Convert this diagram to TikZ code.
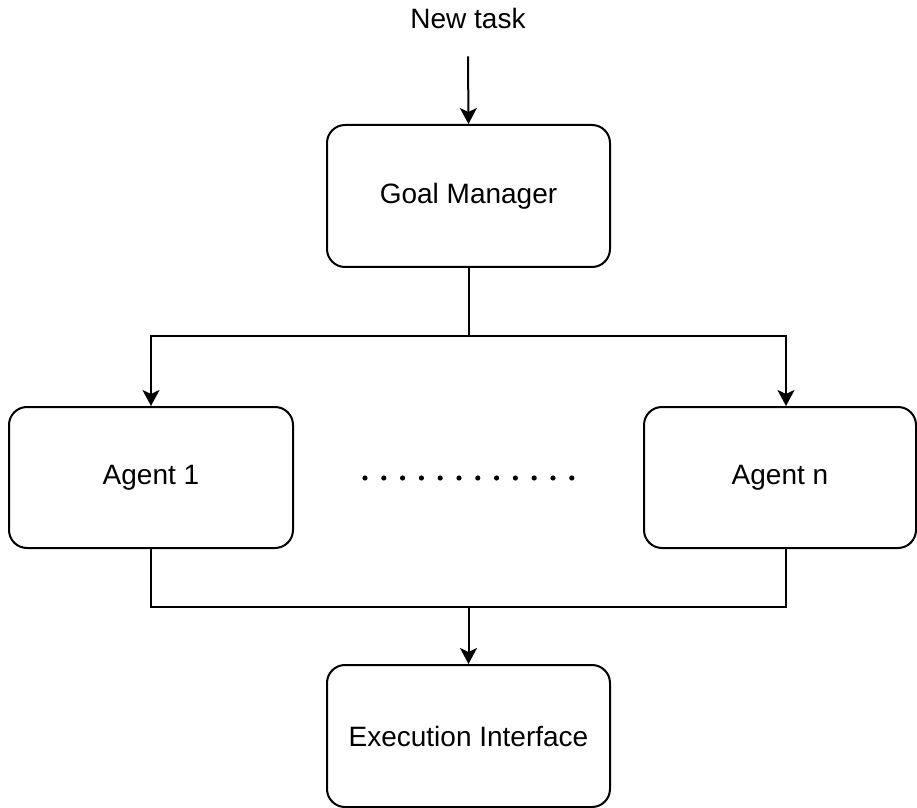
\documentclass[tikz,border=0pt]{standalone}
\usepackage{fontspec}
\setmainfont{Liberation Sans}
\usetikzlibrary{arrows.meta}

\tikzset{
  box/.style={draw, rounded corners=9pt, line width=1pt, inner sep=0pt},
  flow/.style={line width=1pt, -{Stealth[length=8pt, width=8.5pt, inset=2pt]}},
  wire/.style={line width=1pt}
}

\begin{document}
\begin{tikzpicture}[x=0.5pt, y=-0.5pt, every node/.style={font=\fontsize{14pt}{16pt}\selectfont}]
    \useasboundingbox (0,0) rectangle (917,808);
    % nodes
    \node (task) at (468,18) {New task};
    \node[box, minimum width=141.5pt, minimum height=71pt] (goal) at (468.5,196) {Goal Manager};
    \node[box, minimum width=142pt, minimum height=70.5pt] (agent1) at (151,477.5) {Agent 1};
    \node[box, minimum width=136pt, minimum height=70.5pt] (agentn) at (780,477.5) {Agent n};
    \node[box, minimum width=141.5pt, minimum height=71pt] (exec) at (468.5,736) {Execution Interface};
    \coordinate (split) at (468.5,336);
    \coordinate (join) at (468.5,607);
    % connectors
    \draw[flow] ([yshift=-10.5pt]task.south) -- (goal.north);
    \draw[wire] (goal.south) -- (split);
    \draw[flow] (split) -| (agent1.north);
    \draw[flow] (split) -| ([xshift=3pt]agentn.north);
    \draw[wire] (agent1.south) |- (join) -| ([xshift=3pt]agentn.south);
    \draw[flow] (join) -- (exec.north);
    % dots
    \foreach \i in {0,...,11}
      \fill (365+\i*18.8,478) circle (1.3pt);
  \end{tikzpicture}
\end{document}
